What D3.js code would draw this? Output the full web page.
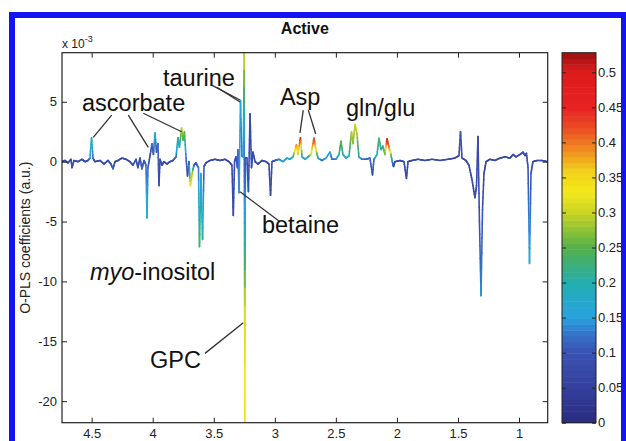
<!DOCTYPE html>
<html><head><meta charset="utf-8">
<script src="https://cdn.jsdelivr.net/npm/d3@7"></script>
<style>body{margin:0;background:#fff}svg{display:block}text{font-family:"Liberation Sans",Arial,sans-serif}</style>
</head><body><svg id="c" width="626" height="441"></svg>
<script>
// chemical shift (ppm)
const ppm = [4.743,4.718,4.694,4.669,4.661,4.645,4.612,4.579,4.555,4.530,
4.514,4.501,4.489,4.473,4.432,4.399,4.366,4.342,4.325,4.309,
4.284,4.252,4.219,4.186,4.162,4.137,4.121,4.104,4.088,4.071,
4.055,4.047,4.039,4.022,4.006,3.994,3.981,3.969,3.957,3.949,
3.940,3.924,3.908,3.883,3.859,3.834,3.809,3.793,3.781,3.764,
3.752,3.740,3.727,3.715,3.703,3.691,3.674,3.662,3.646,3.625,
3.617,3.605,3.592,3.580,3.564,3.531,3.490,3.449,3.408,3.375,
3.351,3.340,3.330,3.318,3.306,3.302,3.293,3.281,3.269,3.258,
3.251,3.250,3.249,3.248,3.247,3.246,3.244,3.242,3.240,3.228,
3.216,3.203,3.191,3.179,3.162,3.138,3.105,3.072,3.048,3.035,
3.023,2.999,2.966,2.933,2.900,2.876,2.851,2.823,2.810,2.790,
2.777,2.753,2.728,2.704,2.679,2.663,2.646,2.614,2.581,2.548,
2.532,2.499,2.474,2.458,2.442,2.417,2.392,2.372,2.360,2.343,
2.327,2.311,2.286,2.253,2.221,2.200,2.188,2.163,2.147,2.130,
2.114,2.098,2.081,2.065,2.053,2.040,2.028,2.016,1.975,1.942,
1.922,1.909,1.877,1.827,1.770,1.713,1.647,1.582,1.524,1.492,
1.479,1.467,1.434,1.410,1.385,1.361,1.348,1.336,1.324,1.311,
1.299,1.287,1.270,1.238,1.197,1.156,1.115,1.074,1.049,1.025,
0.992,0.967,0.951,0.939,0.926,0.914,0.902,0.886,0.853,0.812,
0.765];
// O-PLS coefficients (x 10^-3)
const coef = [0.0,0.1,-0.1,0.2,-0.5,0.1,0.0,0.2,0.0,0.1,
0.3,2.0,0.3,0.0,0.1,-0.2,0.1,-0.2,-0.6,0.0,
0.1,0.3,0.2,0.0,-0.3,0.2,-0.5,0.3,-0.6,0.1,
-0.3,-4.7,-0.5,0.5,1.5,0.6,2.4,0.8,1.5,-2.0,
0.2,-0.3,0.0,-0.2,0.0,0.1,0.4,2.0,1.2,2.8,
1.8,2.5,0.3,-1.2,0.0,-2.0,-0.8,-0.3,-0.1,-0.5,
-7.1,-1.0,-6.5,-0.4,-0.1,0.1,0.2,0.1,0.2,0.0,
-0.3,-4.5,0.0,0.4,-0.5,1.0,-2.6,5.1,0.5,0.4,
9.1,0.2,-2.6,-7.7,-13.0,-21.8,-12.0,-3.0,0.3,0.3,
-2.5,4.0,-0.5,0.8,0.0,-0.2,0.1,0.0,-0.2,-2.8,
0.0,0.1,0.2,0.0,0.3,0.2,0.4,1.4,0.6,2.0,
0.4,0.2,0.4,0.6,1.95,1.0,0.3,0.1,0.3,0.8,
0.2,0.2,0.6,1.7,0.6,0.3,0.5,2.5,1.5,3.1,
2.3,0.4,0.2,0.2,0.3,-1.1,0.2,0.6,1.95,1.0,
1.3,0.6,1.9,1.2,0.8,0.1,-0.4,0.0,0.1,0.0,
-1.4,0.0,0.1,0.2,0.1,0.2,0.1,0.2,0.3,0.5,
2.5,0.3,0.1,-0.3,-1.5,-3.0,-2.0,2.1,-5.0,-11.2,
-4.0,-1.0,0.0,0.2,0.1,0.3,0.4,0.3,0.6,0.4,
0.6,0.8,0.5,0.7,-0.5,-8.5,-1.0,0.0,0.1,0.1,
0.0];
// correlation (colour) values
const corr = [.08,.08,.09,.08,.1,.08,.08,.09,.08,.09,
.14,.2,.12,.08,.08,.09,.08,.09,.12,.09,
.08,.09,.09,.08,.1,.09,.1,.09,.12,.09,
.12,.18,.12,.09,.12,.1,.17,.1,.12,.09,
.09,.09,.08,.09,.08,.09,.12,.2,.18,.3,
.24,.27,.12,.09,.1,.33,.28,.12,.09,.12,
.24,.15,.2,.1,.09,.08,.08,.08,.08,.08,
.08,.08,.09,.1,.1,.12,.14,.16,.12,.14,
.31,.12,.13,.2,.31,.34,.31,.14,.1,.09,
.09,.08,.09,.09,.08,.08,.09,.08,.08,.08,
.09,.1,.13,.15,.15,.18,.22,.4,.3,.46,
.2,.15,.18,.3,.44,.34,.18,.12,.15,.16,
.12,.13,.22,.25,.2,.16,.2,.29,.27,.3,
.29,.2,.13,.12,.12,.09,.12,.2,.24,.2,
.23,.25,.47,.4,.34,.15,.09,.09,.08,.08,
.08,.08,.08,.08,.08,.08,.08,.08,.08,.09,
.09,.09,.08,.08,.08,.08,.08,.08,.09,.14,
.1,.08,.08,.08,.08,.08,.08,.08,.09,.08,
.09,.1,.09,.09,.1,.16,.1,.08,.08,.08,
.08];

const xTicks = [4.5,4,3.5,3,2.5,2,1.5,1];
const yTicks = [5,0,-5,-10,-15,-20];
const cTicks = [0,0.05,0.1,0.15,0.2,0.25,0.3,0.35,0.4,0.45,0.5];
const cbVals = [0,0.05,0.1,0.125,0.15,0.2,0.25,0.3,0.33,0.36,0.39,0.42,0.45,0.5,0.528];
const cbColors = ['#2a2b80','#333f9c','#3a52b2','#3570c8','#2aa2e0','#22aeb0','#55b048','#c8d424','#f4e81c','#f2cf18','#ef8a22','#ea4d24','#e82222','#de1c1c','#9c1010'];

// annotations in data coordinates
const labels = [
  {t:"ascorbate", x:4.579, y:4.23},
  {t:"taurine", x:3.916, y:6.32},
  {t:"Asp", x:2.958, y:4.73},
  {t:"gln/glu", x:2.417, y:3.81},
  {t:"betaine", x:3.105, y:-5.96},
  {t:"myo", it:true, rest:"-inositol", x:4.514, y:-9.89},
  {t:"GPC", x:4.022, y:-17.24}
];
const leaders = [
  [4.336,3.89,4.487,2.03],[4.200,3.89,4.036,1.19],[4.077,4.04,3.763,2.50],
  [3.513,6.37,3.285,5.15],[3.472,6.20,3.285,4.98],
  [2.767,4.31,2.794,2.41],[2.726,4.31,2.665,2.31],
  [3.285,-2.51,2.958,-5.02],
  [3.572,-16.01,3.258,-13.46]
];

const svg = d3.select("#c");
const L=62, R=547.7, T=52.7, B=422.7;
const x = d3.scaleLinear().domain([4.743,0.765]).range([L,R]);
const y = d3.scaleLinear().domain([-21.8,9.1]).range([B,T]);
const col = d3.scaleLinear().domain(cbVals).range(cbColors).interpolate(d3.interpolateRgb);

svg.append("rect").attr("width",626).attr("height",441).attr("fill","#fff");
svg.append("defs").append("clipPath").attr("id","clip").append("rect")
  .attr("x",L).attr("y",T).attr("width",R-L).attr("height",B-T);

// spectrum, coloured by correlation (interpolated along each segment)
const gl = svg.append("g").attr("clip-path","url(#clip)");
const segs = [];
const N = 6;
for (let i=0;i<ppm.length-1;i++){
  for (let k=0;k<N;k++){
    const a=k/N, b=(k+1)/N;
    segs.push({
      x1: ppm[i]+(ppm[i+1]-ppm[i])*a, y1: coef[i]+(coef[i+1]-coef[i])*a,
      x2: ppm[i]+(ppm[i+1]-ppm[i])*b, y2: coef[i]+(coef[i+1]-coef[i])*b,
      c: corr[i]+(corr[i+1]-corr[i])*(a+b)/2
    });
  }
}
gl.selectAll("line").data(segs).join("line")
  .attr("x1",d=>x(d.x1)).attr("y1",d=>y(d.y1))
  .attr("x2",d=>x(d.x2)).attr("y2",d=>y(d.y2))
  .attr("stroke",d=>col(d.c)).attr("stroke-width",1.6).attr("stroke-linecap","round");

// axes (MATLAB-style box with inward ticks)
function styleAxis(g){ g.select(".domain").remove(); g.selectAll("line").attr("stroke","#222");
  g.selectAll("text").attr("font-size",13).attr("fill","#222").attr("font-family","Liberation Sans, Arial, sans-serif"); }
svg.append("g").attr("transform",`translate(0,${B})`)
  .call(d3.axisBottom(x).tickValues(xTicks).tickSizeInner(-5).tickSizeOuter(0).tickPadding(6).tickFormat(d=>String(d))).call(styleAxis);
svg.append("g").attr("transform",`translate(0,${T})`)
  .call(d3.axisTop(x).tickValues(xTicks).tickSizeInner(-5).tickSizeOuter(0).tickFormat("")).call(styleAxis);
svg.append("g").attr("transform",`translate(${L},0)`)
  .call(d3.axisLeft(y).tickValues(yTicks).tickSizeInner(-5).tickSizeOuter(0).tickPadding(5).tickFormat(d=>String(d))).call(styleAxis);
svg.append("g").attr("transform",`translate(${R},0)`)
  .call(d3.axisRight(y).tickValues(yTicks).tickSizeInner(-5).tickSizeOuter(0).tickFormat("")).call(styleAxis);
svg.append("rect").attr("x",L).attr("y",T).attr("width",R-L).attr("height",B-T)
  .attr("fill","none").attr("stroke","#222").attr("stroke-width",1.2);

// exponent
const ex = svg.append("text").attr("x",L).attr("y",48).attr("font-size",12).attr("fill","#222");
ex.append("tspan").text("x 10");
ex.append("tspan").attr("font-size",9).attr("dy",-6).text("-3");

// title
svg.append("text").attr("x",(L+R)/2).attr("y",34).attr("text-anchor","middle")
  .attr("font-size",16).attr("font-weight","bold").attr("fill","#111").text("Active");

// y label
svg.append("text").attr("transform",`translate(30,${(T+B)/2}) rotate(-90)`).attr("text-anchor","middle")
  .attr("font-size",14).attr("fill","#222").text("O-PLS coefficients (a.u.)");

// leader lines and labels
svg.append("g").selectAll("line").data(leaders).join("line")
  .attr("x1",d=>x(d[0])).attr("y1",d=>y(d[1])).attr("x2",d=>x(d[2])).attr("y2",d=>y(d[3]))
  .attr("stroke","#333").attr("stroke-width",1.3);
const lt = svg.append("g").selectAll("text").data(labels).join("text")
  .attr("x",d=>x(d.x)).attr("y",d=>y(d.y)).attr("font-size",23.5).attr("fill","#111");
lt.each(function(d){
  const s=d3.select(this);
  if(d.it){ s.append("tspan").attr("font-style","italic").text(d.t); s.append("tspan").text(d.rest); }
  else s.text(d.t);
});

// colorbar
const cb = d3.scaleLinear().domain([0,0.528]).range([B,T]);
const CL=562, CR=596, nb=64;
const bins = d3.range(nb).map(i=>({v0:i*0.528/nb, v1:(i+1)*0.528/nb}));
svg.append("g").selectAll("rect").data(bins).join("rect")
  .attr("x",CL).attr("width",CR-CL).attr("y",d=>cb(d.v1)).attr("height",d=>cb(d.v0)-cb(d.v1)+0.5)
  .attr("fill",d=>col((d.v0+d.v1)/2));
svg.append("g").attr("transform",`translate(${CR},0)`)
  .call(d3.axisRight(cb).tickValues(cTicks).tickSizeInner(-4).tickSizeOuter(0).tickPadding(2).tickFormat(d=>String(d))).call(styleAxis);
svg.append("g").attr("transform",`translate(${CL},0)`)
  .call(d3.axisLeft(cb).tickValues(cTicks).tickSizeInner(-4).tickSizeOuter(0).tickFormat("")).call(styleAxis);
svg.append("rect").attr("x",CL).attr("y",T).attr("width",CR-CL).attr("height",B-T)
  .attr("fill","none").attr("stroke","#222").attr("stroke-width",1);

// blue frame
svg.append("rect").attr("x",12).attr("y",15).attr("width",612).attr("height",440)
  .attr("fill","none").attr("stroke","#1414f0").attr("stroke-width",6);
</script></body></html>
